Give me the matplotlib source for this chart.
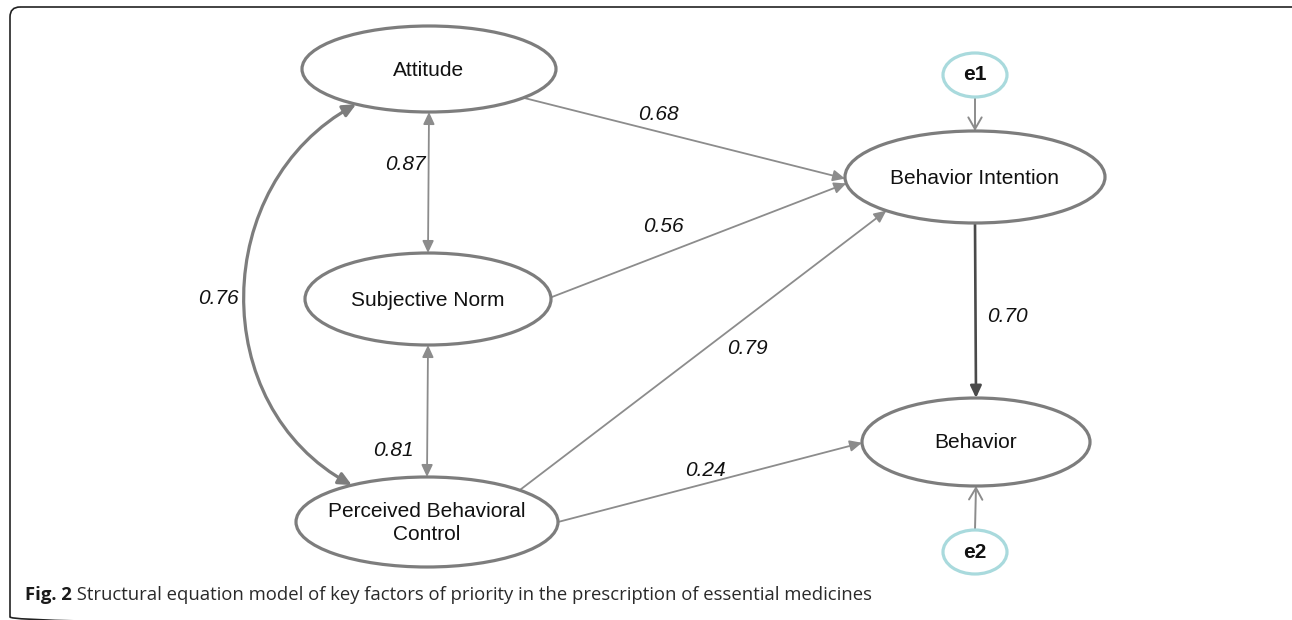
import numpy as np
import matplotlib
matplotlib.use('Agg')
import matplotlib.pyplot as plt
from matplotlib.patches import Ellipse, FancyArrowPatch, FancyBboxPatch
from matplotlib.path import Path

# --- model content -------------------------------------------------------
latent = ['Attitude', 'Subjective Norm', 'Perceived Behavioral\nControl',
          'Behavior Intention', 'Behavior']
errors = ['e1', 'e2']

# regression paths: source, target, standardized coefficient
path_src = ['Attitude', 'Subjective Norm', 'Perceived Behavioral\nControl',
            'Perceived Behavioral\nControl', 'Behavior Intention']
path_dst = ['Behavior Intention', 'Behavior Intention', 'Behavior Intention',
            'Behavior', 'Behavior']
path_coef = [0.68, 0.56, 0.79, 0.24, 0.70]

# correlations between exogenous factors
cov_a = ['Attitude', 'Subjective Norm', 'Attitude']
cov_b = ['Subjective Norm', 'Perceived Behavioral\nControl', 'Perceived Behavioral\nControl']
cov_coef = [0.87, 0.81, 0.76]

# error terms -> endogenous factors
err_dst = ['Behavior Intention', 'Behavior']

caption_bold = 'Fig. 2'
caption_text = ('Structural equation model of key factors of priority in the '
                'prescription of essential medicines')

# --- layout (pixel space, y down) ----------------------------------------
W, H = 1292, 620
node_geo = {  # center x, center y, half width, half height
    'Attitude': (429, 69, 127, 43),
    'Subjective Norm': (428, 299, 123, 46),
    'Perceived Behavioral\nControl': (427, 522, 131, 45),
    'Behavior Intention': (975, 177, 130, 46),
    'Behavior': (976, 442, 114, 44),
    'e1': (975, 75, 32, 22),
    'e2': (975, 552, 32, 22),
}
# anchor angles on the ellipses (deg) for each path, and label spots
path_ang = [(42, 178), (-2, 172), (-45, 133), (0, 179), (90, 270)]
path_lab = [(658, 115), (663, 227), (747, 348), (705, 470), (1007, 317)]
cov_ang = [(90, 270), (90, 270), (125, 235)]
cov_lab = [(405, 165), (393, 450), (218, 298)]

EDGE = '#7d7d7d'
LINE = '#8c8c8c'
CYAN = '#a9dadd'
FONT = 'Liberation Sans'


def anchor(name, deg):
    cx, cy, a, b = node_geo[name]
    t = np.radians(deg)
    return cx + a * np.cos(t), cy + b * np.sin(t)


fig = plt.figure(figsize=(W / 100, H / 100), dpi=100)
ax = fig.add_axes([0, 0, 1, 1])
ax.set_xlim(0, W)
ax.set_ylim(H, 0)
ax.axis('off')

# frame (runs past the right and bottom edges of the picture)
ax.add_patch(FancyBboxPatch((10, 7), 1292, 620, boxstyle='round,pad=0,rounding_size=10',
                            fc='none', ec='#222222', lw=1.2, clip_on=True))

# nodes
for name in latent:
    cx, cy, a, b = node_geo[name]
    ax.add_patch(Ellipse((cx, cy), 2 * a, 2 * b, fc='white', ec=EDGE, lw=2.3, zorder=3))
    ax.text(cx, cy + 1, name, ha='center', va='center', fontsize=15, family=FONT,
            color='#111111', linespacing=1.25, zorder=4)
for name in errors:
    cx, cy, a, b = node_geo[name]
    ax.add_patch(Ellipse((cx, cy), 2 * a, 2 * b, fc='white', ec=CYAN, lw=2.3, zorder=3))
    ax.text(cx, cy, name, ha='center', va='center', fontsize=15, family=FONT,
            weight='bold', color='#111111', zorder=4)

# regression paths
for src, dst, c, (a0, a1), (lx, ly) in zip(path_src, path_dst, path_coef, path_ang, path_lab):
    p0 = anchor(src, a0)
    p1 = anchor(dst, a1)
    heavy = src == 'Behavior Intention'
    ax.add_patch(FancyArrowPatch(p0, p1, arrowstyle='-|>,head_length=0.6,head_width=0.28',
                                 mutation_scale=12, shrinkA=0, shrinkB=0,
                                 color='#4a4a4a' if heavy else LINE,
                                 lw=1.9 if heavy else 1.3, zorder=2))
    ax.text(lx, ly, f'{c:.2f}', ha='center', va='center', fontsize=15, family=FONT,
            style='italic', color='#111111')

# correlations
for a_, b_, c, (a0, a1), (lx, ly) in zip(cov_a, cov_b, cov_coef, cov_ang, cov_lab):
    p0 = anchor(a_, a0)
    p1 = anchor(b_, a1)
    if a_ == 'Attitude' and b_.startswith('Perceived'):
        verts = [p0, (210, 184), (206, 406), p1]
        pth = Path(verts, [Path.MOVETO, Path.CURVE4, Path.CURVE4, Path.CURVE4])
        arr = FancyArrowPatch(path=pth, arrowstyle='<|-|>,head_length=0.6,head_width=0.28',
                              mutation_scale=13, color=EDGE, lw=2.3, zorder=2)
    else:
        arr = FancyArrowPatch(p0, p1, arrowstyle='<|-|>,head_length=0.6,head_width=0.28',
                              mutation_scale=12, shrinkA=0, shrinkB=0,
                              color=LINE, lw=1.3, zorder=2)
    ax.add_patch(arr)
    ax.text(lx, ly, f'{c:.2f}', ha='center', va='center', fontsize=15, family=FONT,
            style='italic', color='#111111')

# error terms
for e, dst in zip(errors, err_dst):
    if e == 'e1':
        p0, p1 = anchor(e, 90), anchor(dst, 270)
    else:
        p0, p1 = anchor(e, 270), anchor(dst, 90)
    ax.add_patch(FancyArrowPatch(p0, p1, arrowstyle='->,head_length=0.7,head_width=0.4',
                                 mutation_scale=12, shrinkA=0, shrinkB=0,
                                 color=LINE, lw=1.4, zorder=2))

# caption
t1 = ax.text(25, 600, caption_bold, ha='left', va='baseline', fontsize=13.3,
             family='Open Sans', weight='bold', color='#1a1a1a')
ax.annotate(' ' + caption_text, xy=(1, 0), xycoords=t1, ha='left', va='bottom',
            fontsize=13.3, family='Open Sans', color='#2a2a2a')

fig.savefig('out.png', dpi=100)
